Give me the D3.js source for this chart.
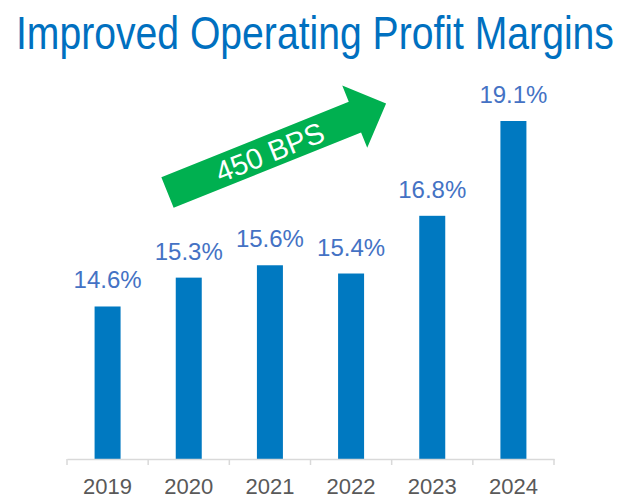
<!DOCTYPE html>
<html>
<head>
<meta charset="utf-8">
<script src="https://cdn.jsdelivr.net/npm/d3@7"></script>
<style>
  body { margin: 0; background: #fff; }
  svg { display: block; font-family: "Liberation Sans", Arial, sans-serif; }
</style>
</head>
<body>
<div id="chart"></div>
<script>
// Chart data
const years = ["2019", "2020", "2021", "2022", "2023", "2024"];
const margins = [14.6, 15.3, 15.6, 15.4, 16.8, 19.1];
const valueLabels = ["14.6%", "15.3%", "15.6%", "15.4%", "16.8%", "19.1%"];
const arrowLabel = "450 BPS";

const width = 621, height = 499;
const axisY = 459;

const svg = d3.select("#chart")
    .append("svg")
    .attr("width", width)
    .attr("height", height);

// Title (condensed by scaling horizontally to fit the width)
const title = svg.append("text")
    .attr("x", 0)
    .attr("y", 0)
    .attr("font-size", 47)
    .attr("fill", "#0070C0")
    .text("Improved Operating Profit Margins");
const titleW = title.node().getComputedTextLength();
const sx = 598 / titleW;
title.attr("transform", `translate(16,49) scale(${sx},1)`);

// Scales
const x = d3.scaleBand()
    .domain(years)
    .range([67, 554])
    .paddingInner(0)
    .paddingOuter(0);

const y = d3.scaleLinear()
    .domain([10.9, 19.1])
    .range([axisY, 121]);

const barWidth = 26;

// Bars
svg.append("g")
    .selectAll("rect")
    .data(margins)
    .enter()
    .append("rect")
    .attr("x", (d, i) => x(years[i]) + x.bandwidth() / 2 - barWidth / 2)
    .attr("y", d => y(d))
    .attr("width", barWidth)
    .attr("height", d => axisY - y(d))
    .attr("fill", "#0079C1");

// Value labels
svg.append("g")
    .selectAll("text")
    .data(margins)
    .enter()
    .append("text")
    .attr("x", (d, i) => x(years[i]) + x.bandwidth() / 2)
    .attr("y", d => y(d) - 18)
    .attr("text-anchor", "middle")
    .attr("font-size", 24)
    .attr("fill", "#4472C4")
    .text((d, i) => valueLabels[i]);

// X axis
const xAxis = svg.append("g")
    .attr("transform", `translate(0,${axisY})`)
    .call(d3.axisBottom(x).tickSize(0).tickPadding(19));
xAxis.select(".domain").attr("stroke", "#D9D9D9").attr("stroke-width", 1.5);
xAxis.selectAll(".tick text")
    .attr("font-size", 22)
    .attr("font-family", "'Liberation Sans', Arial, sans-serif")
    .attr("fill", "#595959")
    .attr("dy", "0.71em");

// Tick marks at band boundaries
const edges = years.map(d => x(d)).concat([x.range()[1]]);
svg.append("g")
    .selectAll("line")
    .data(edges)
    .enter()
    .append("line")
    .attr("x1", d => d)
    .attr("x2", d => d)
    .attr("y1", axisY)
    .attr("y2", axisY + 6)
    .attr("stroke", "#D9D9D9")
    .attr("stroke-width", 1.5);

// Green growth arrow
const arrow = svg.append("g")
    .attr("transform", "translate(167.5,192.5) rotate(-21.9)");
arrow.append("path")
    .attr("d", "M0,-16.5 L202,-16.5 L202,-34 L236,-1 L202,33 L202,16.5 L0,16.5 Z")
    .attr("fill", "#00B050");
arrow.append("text")
    .attr("x", 110)
    .attr("y", 11)
    .attr("text-anchor", "middle")
    .attr("font-size", 29)
    .attr("fill", "#fff")
    .text(arrowLabel);
</script>
</body>
</html>
